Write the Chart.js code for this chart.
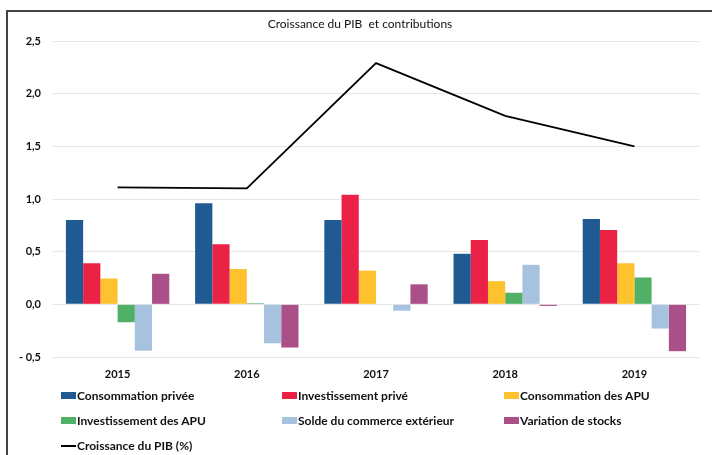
<!DOCTYPE html>
<html>
<head>
<meta charset="utf-8">
<script src="https://cdn.jsdelivr.net/npm/chart.js@4"></script>
<style>
  body { margin: 0; background: #fff; font-family: Lato, sans-serif; }
  #wrap { position: relative; width: 712px; height: 455px; overflow: hidden; }
  #frame { position: absolute; left: 6px; top: 10px; right: -5px; bottom: -5px;
           border-left: 2px solid #444; border-top: 2px solid #444; pointer-events: none; }
  #title { position: absolute; top: 16px; left: 0; width: 720px; text-align: center;
           font-size: 12px; color: #111; white-space: pre; }
  #legend { position: absolute; left: 61px; top: 388px; width: 660px; }
  .item { position: absolute; display: flex; align-items: center; font-size: 12px;
          font-weight: bold; color: #111; white-space: nowrap; }
  .swatch { width: 15px; height: 7px; margin-right: 1px; }
  .swatch.line { height: 2px; background: #000; }
</style>
</head>
<body>
<div id="wrap">
  <canvas id="chart" width="712" height="455"></canvas>
  <div id="frame"></div>
  <div id="title">Croissance du PIB  et contributions</div>
  <div id="legend"></div>
</div>
<script>
const years = ['2015', '2016', '2017', '2018', '2019'];

const consoPrivee = [0.80, 0.96, 0.80, 0.48, 0.81];
const investPrive = [0.39, 0.57, 1.04, 0.61, 0.705];
const consoAPU = [0.245, 0.335, 0.32, 0.22, 0.39];
const investAPU = [-0.17, 0.01, 0, 0.11, 0.255];
const soldeExt = [-0.44, -0.37, -0.06, 0.375, -0.23];
const varStocks = [0.29, -0.41, 0.19, -0.015, -0.445];
const croissancePIB = [1.11, 1.10, 2.29, 1.79, 1.50];

const barLabels = ['Consommation privée', 'Investissement privé', 'Consommation des APU',
                   'Investissement des APU', 'Solde du commerce extérieur', 'Variation de stocks'];
const barColors = ['#1f5a93', '#eb2145', '#fdc22d', '#50b065', '#a6c2df', '#aa4f88'];
const lineLabel = 'Croissance du PIB (%)';

const yMin = -0.5, yMax = 2.5, yStep = 0.5;

function fmt(v) {
  const s = Math.abs(v).toFixed(1).replace('.', ',');
  return v < 0 ? '- ' + s : s;
}

const barSeries = [consoPrivee, investPrive, consoAPU, investAPU, soldeExt, varStocks];

const datasets = barSeries.map((data, i) => ({
  type: 'bar',
  label: barLabels[i],
  data,
  backgroundColor: barColors[i],
  borderWidth: 0,
  categoryPercentage: 0.8,
  barPercentage: 1.0,
  order: 1
}));

datasets.push({
  type: 'line',
  label: lineLabel,
  data: croissancePIB,
  borderColor: '#000',
  borderWidth: 1.8,
  pointRadius: 0,
  tension: 0,
  fill: false,
  order: 0
});

new Chart(document.getElementById('chart'), {
  type: 'bar',
  data: { labels: years, datasets },
  options: {
    responsive: false,
    animation: false,
    layout: { padding: { left: 0, right: 13, top: 41, bottom: 0 } },
    plugins: { legend: { display: false }, title: { display: false }, tooltip: { enabled: false } },
    scales: {
      x: {
        grid: { display: false, drawTicks: false },
        border: { display: false },
        ticks: { padding: 11, color: '#111', font: { family: 'Lato', size: 11, weight: 'bold' } },
        afterFit: (s) => { s.height = 98; }
      },
      y: {
        min: yMin,
        max: yMax,
        grid: { color: '#e6e6e6', drawTicks: false },
        border: { display: false },
        ticks: {
          stepSize: yStep,
          padding: 12,
          color: '#111',
          font: { family: 'Lato', size: 11, weight: 'bold' },
          callback: (v) => fmt(v)
        },
        afterFit: (s) => { s.width = 53; }
      }
    }
  }
});

// legend, 3 columns
const legend = document.getElementById('legend');
const colX = [0, 221, 443];
const rowY = [0, 25, 50];
const items = barLabels.map((l, i) => ({ label: l, color: barColors[i] }));
items.push({ label: lineLabel, line: true });
items.forEach((it, i) => {
  const el = document.createElement('div');
  el.className = 'item';
  el.style.left = colX[i % 3] + 'px';
  el.style.top = rowY[Math.floor(i / 3)] + 'px';
  const sw = document.createElement('span');
  sw.className = 'swatch' + (it.line ? ' line' : '');
  if (!it.line) sw.style.background = it.color;
  const tx = document.createElement('span');
  tx.textContent = it.label;
  el.appendChild(sw);
  el.appendChild(tx);
  legend.appendChild(el);
});
</script>
</body>
</html>
